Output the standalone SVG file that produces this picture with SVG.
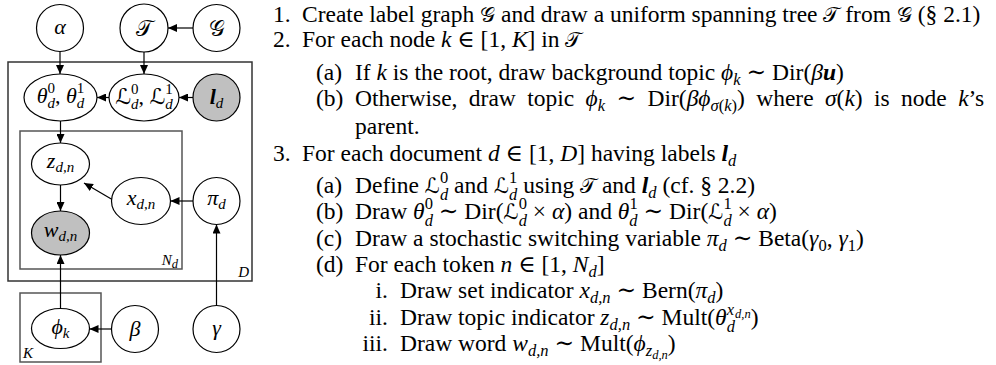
<svg xmlns="http://www.w3.org/2000/svg" width="996" height="365" viewBox="0 0 996 365">
<style>
.nd{fill:#fff;stroke:#000;stroke-width:1.2}
.sh{fill:#c0c0c0;stroke:#000;stroke-width:1.2}
.pl{fill:none;stroke:#555;stroke-width:1.5}
.pd{fill:none;stroke:#333;stroke-width:1.5}
.cn{stroke:#000;stroke-width:1.2;fill:none;marker-end:url(#ah)}
.lb{font-family:"Liberation Serif","DejaVu Serif",serif;font-size:22px;font-style:italic;text-anchor:middle}
.ls{font-size:15px}
.up{font-style:normal}
.pt{font-family:"Liberation Serif","DejaVu Serif",serif;font-size:15px;font-style:italic}
.tx{font-family:"Liberation Serif","DejaVu Serif",serif;font-size:23.5px}
.m{font-style:italic}
.sb{font-size:16.5px}
.sbb{font-size:12.5px}
.bi{font-weight:bold;font-style:italic}
.cal{font-family:"DejaVu Serif","DejaVu Sans","Noto Sans",serif;font-style:normal}
.tx .cal{font-size:21px}
</style>
<defs>
<marker id="ah" markerUnits="userSpaceOnUse" markerWidth="9" markerHeight="8" refX="9" refY="4" orient="auto"><path d="M0,0 L9,4 L0,8 z" fill="#000"/></marker>
</defs>
<g id="plates">
<rect id="plate-D" class="pd" x="8" y="62" width="244" height="219"/>
<rect id="plate-Nd" class="pl" x="20" y="131" width="162" height="138"/>
<rect id="plate-K" class="pl" x="20" y="293" width="81" height="69"/>
<text class="pt" x="249" y="277" text-anchor="end">D</text>
<text class="pt" x="178" y="265" text-anchor="end">N<tspan class="sbb" dy="3">d</tspan></text>
<text class="pt" x="23" y="358">K</text>
</g>
<g id="connectors">
<line class="cn" x1="60" y1="51.5" x2="60" y2="74"/>
<line class="cn" x1="144" y1="52" x2="144" y2="74"/>
<line class="cn" x1="193" y1="28" x2="168" y2="28"/>
<line class="cn" x1="193" y1="97.5" x2="179" y2="97.5"/>
<line class="cn" x1="109" y1="97.5" x2="97" y2="97.5"/>
<line class="cn" x1="60.5" y1="121" x2="60.5" y2="143"/>
<line class="cn" x1="113" y1="200" x2="84" y2="183"/>
<line class="cn" x1="193" y1="201" x2="170.5" y2="201"/>
<line class="cn" x1="60.5" y1="185" x2="60.5" y2="211"/>
<line class="cn" x1="60.5" y1="308.5" x2="60.5" y2="255"/>
<line class="cn" x1="111.5" y1="329" x2="89.5" y2="329"/>
<line class="cn" x1="216.5" y1="305.5" x2="216.5" y2="224.5"/>
</g>
<g id="node-alpha"><circle class="nd" cx="60" cy="28" r="23.5"/><text class="lb" x="60" y="34">α</text></g>
<g id="node-T"><circle class="nd" cx="144" cy="28" r="24"/><text class="lb" x="144" y="36"><tspan class="cal">𝒯</tspan></text></g>
<g id="node-G"><circle class="nd" cx="216.5" cy="28" r="23.5"/><text class="lb" x="216.5" y="36"><tspan class="cal">𝒢</tspan></text></g>
<g id="node-theta"><ellipse class="nd" cx="60.5" cy="97.5" rx="36.5" ry="23.5"/><text class="lb" x="60.5" y="102.5">θ<tspan class="ls" dy="5.5">d</tspan><tspan class="ls up" dx="-7.5" dy="-15">0</tspan><tspan class="up" dy="9.5">, </tspan>θ<tspan class="ls" dy="5.5">d</tspan><tspan class="ls up" dx="-7.5" dy="-15">1</tspan></text></g>
<g id="node-L"><ellipse class="nd" cx="144" cy="97.5" rx="35" ry="23.5"/><text class="lb" x="144" y="103.5"><tspan class="cal">ℒ</tspan><tspan class="ls" dy="5.5">d</tspan><tspan class="ls up" dx="-7.5" dy="-15">0</tspan><tspan class="up" dy="9.5">, </tspan><tspan class="cal">ℒ</tspan><tspan class="ls" dy="5.5">d</tspan><tspan class="ls up" dx="-7.5" dy="-15">1</tspan></text></g>
<g id="node-ld"><circle class="sh" cx="216.5" cy="97.5" r="23.5"/><text class="lb" x="216.5" y="104"><tspan class="bi">l</tspan><tspan class="ls" dy="4">d</tspan></text></g>
<g id="node-z"><ellipse class="nd" cx="60.5" cy="164" rx="29" ry="21"/><text class="lb" x="60.5" y="168">z<tspan class="ls" dy="4">d,n</tspan></text></g>
<g id="node-x"><ellipse class="nd" cx="141" cy="201" rx="29.5" ry="23.5"/><text class="lb" x="141" y="205">x<tspan class="ls" dy="4">d,n</tspan></text></g>
<g id="node-pi"><circle class="nd" cx="216.5" cy="201" r="23.5"/><text class="lb" x="216.5" y="205">π<tspan class="ls" dy="4">d</tspan></text></g>
<g id="node-w"><ellipse class="sh" cx="60.5" cy="233" rx="29" ry="22"/><text class="lb" x="60.5" y="237">w<tspan class="ls" dy="4">d,n</tspan></text></g>
<g id="node-phi"><ellipse class="nd" cx="60.5" cy="328.5" rx="29" ry="20"/><text class="lb" x="60.5" y="334">ϕ<tspan class="ls" dy="4">k</tspan></text></g>
<g id="node-beta"><circle class="nd" cx="135" cy="329" r="23.5"/><text class="lb" x="135" y="336">β</text></g>
<g id="node-gamma"><circle class="nd" cx="216.5" cy="329" r="23.5"/><text class="lb" x="216.5" y="335">γ</text></g>
<g id="algorithm">
<text class="tx" y="22"><tspan x="273">1.</tspan><tspan x="302">Create label graph </tspan><tspan class="cal">𝒢</tspan><tspan> and draw a uniform spanning tree </tspan><tspan class="cal">𝒯</tspan><tspan> from </tspan><tspan class="cal">𝒢</tspan><tspan> (§ 2.1)</tspan></text>
<text class="tx" y="47"><tspan x="273">2.</tspan><tspan x="302">For each node </tspan><tspan class="m">k</tspan><tspan> ∈ [1, </tspan><tspan class="m">K</tspan><tspan>] in </tspan><tspan class="cal">𝒯</tspan></text>
<text class="tx" y="80"><tspan x="316">(a)</tspan><tspan x="355">If </tspan><tspan class="m">k</tspan><tspan> is the root, draw background topic </tspan><tspan class="m">ϕ</tspan><tspan class="sb m" dy="5">k</tspan><tspan dy="-5"> ∼ Dir(</tspan><tspan class="m">β</tspan><tspan class="bi">u</tspan><tspan>)</tspan></text>
<text class="tx" y="106" word-spacing="5.5"><tspan x="316" word-spacing="0">(b)</tspan><tspan x="355">Otherwise, draw topic </tspan><tspan class="m">ϕ</tspan><tspan class="sb m" dy="5">k</tspan><tspan dy="-5"> ∼ Dir(</tspan><tspan class="m">βϕ</tspan><tspan class="sb m" dy="5">σ</tspan><tspan class="sb">(</tspan><tspan class="sb m">k</tspan><tspan class="sb">)</tspan><tspan dy="-5">) where </tspan><tspan class="m">σ</tspan><tspan>(</tspan><tspan class="m">k</tspan><tspan>) is node </tspan><tspan class="m">k</tspan><tspan>’s</tspan></text>
<text class="tx" x="355" y="134">parent.</text>
<text class="tx" y="161"><tspan x="273">3.</tspan><tspan x="302">For each document </tspan><tspan class="m">d</tspan><tspan> ∈ [1, </tspan><tspan class="m">D</tspan><tspan>] having labels </tspan><tspan class="bi">l</tspan><tspan class="sb m" dy="5">d</tspan></text>
<text class="tx" y="193"><tspan x="316">(a)</tspan><tspan x="355">Define </tspan><tspan class="cal">ℒ</tspan><tspan class="sb m" dy="6.5">d</tspan><tspan class="sb" dx="-8.2" dy="-16.5">0</tspan><tspan dy="10"> and </tspan><tspan class="cal">ℒ</tspan><tspan class="sb m" dy="6.5">d</tspan><tspan class="sb" dx="-8.2" dy="-16.5">1</tspan><tspan dy="10"> using </tspan><tspan class="cal">𝒯</tspan><tspan> and </tspan><tspan class="bi">l</tspan><tspan class="sb m" dy="5">d</tspan><tspan dy="-5"> (cf. § 2.2)</tspan></text>
<text class="tx" y="219"><tspan x="316">(b)</tspan><tspan x="355">Draw </tspan><tspan class="m">θ</tspan><tspan class="sb m" dy="6.5">d</tspan><tspan class="sb" dx="-8.2" dy="-16.5">0</tspan><tspan dy="10"> ∼ Dir(</tspan><tspan class="cal">ℒ</tspan><tspan class="sb m" dy="6.5">d</tspan><tspan class="sb" dx="-8.2" dy="-16.5">0</tspan><tspan dy="10"> × </tspan><tspan class="m">α</tspan><tspan>) and </tspan><tspan class="m">θ</tspan><tspan class="sb m" dy="6.5">d</tspan><tspan class="sb" dx="-8.2" dy="-16.5">1</tspan><tspan dy="10"> ∼ Dir(</tspan><tspan class="cal">ℒ</tspan><tspan class="sb m" dy="6.5">d</tspan><tspan class="sb" dx="-8.2" dy="-16.5">1</tspan><tspan dy="10"> × </tspan><tspan class="m">α</tspan><tspan>)</tspan></text>
<text class="tx" y="246"><tspan x="316">(c)</tspan><tspan x="355">Draw a stochastic switching variable </tspan><tspan class="m">π</tspan><tspan class="sb m" dy="5">d</tspan><tspan dy="-5"> ∼ Beta(</tspan><tspan class="m">γ</tspan><tspan class="sb" dy="5">0</tspan><tspan dy="-5">, </tspan><tspan class="m">γ</tspan><tspan class="sb" dy="5">1</tspan><tspan dy="-5">)</tspan></text>
<text class="tx" y="272"><tspan x="316">(d)</tspan><tspan x="355">For each token </tspan><tspan class="m">n</tspan><tspan> ∈ [1, </tspan><tspan class="m">N</tspan><tspan class="sb m" dy="5">d</tspan><tspan dy="-5">]</tspan></text>
<text class="tx" x="388" y="298" text-anchor="end">i.</text>
<text class="tx" y="298"><tspan x="400">Draw set indicator </tspan><tspan class="m">x</tspan><tspan class="sb m" dy="5">d,n</tspan><tspan dy="-5"> ∼ Bern(</tspan><tspan class="m">π</tspan><tspan class="sb m" dy="5">d</tspan><tspan dy="-5">)</tspan></text>
<text class="tx" x="388" y="325" text-anchor="end">ii.</text>
<text class="tx" y="325"><tspan x="400">Draw topic indicator </tspan><tspan class="m">z</tspan><tspan class="sb m" dy="5">d,n</tspan><tspan dy="-5"> ∼ Mult(</tspan><tspan class="m">θ</tspan><tspan class="sb m" dy="6.5">d</tspan><tspan class="sb m" dx="-8.2" dy="-16.5">x</tspan><tspan class="sbb m" dx="1" dy="3">d,n</tspan><tspan dy="7">)</tspan></text>
<text class="tx" x="388" y="351" text-anchor="end">iii.</text>
<text class="tx" y="351"><tspan x="400">Draw word </tspan><tspan class="m">w</tspan><tspan class="sb m" dy="5">d,n</tspan><tspan dy="-5"> ∼ Mult(</tspan><tspan class="m">ϕ</tspan><tspan class="sb m" dy="5">z</tspan><tspan class="sbb m" dy="3">d,n</tspan><tspan dy="-8">)</tspan></text>
</g>
</svg>
